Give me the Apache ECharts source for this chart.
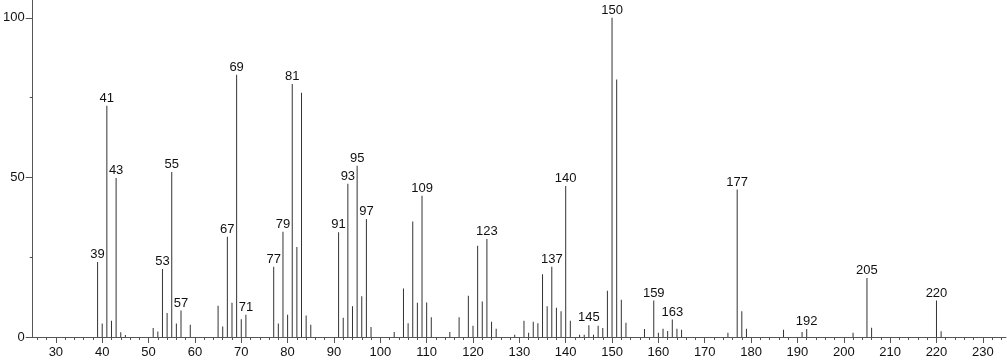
<!DOCTYPE html>
<html>
<head>
<meta charset="utf-8">
<script src="https://cdn.jsdelivr.net/npm/echarts@6/dist/echarts.min.js"></script>
<style>
html,body{margin:0;padding:0;background:#fff;}
#chart{width:1007px;height:362px;}
</style>
</head>
<body>
<div id="chart"></div>
<script>
// m/z values of the peaks
var mzValues = [39,40,41,42,43,44,45,51,52,53,54,55,56,57,59,65,66,67,68,69,70,71,77,78,79,80,81,82,83,84,85,91,92,93,94,95,96,97,98,103,105,106,107,108,109,110,111,115,117,119,120,121,122,123,124,125,129,131,132,133,134,135,136,137,138,139,140,141,143,144,145,146,147,148,149,150,151,152,153,157,159,160,161,162,163,164,165,175,177,178,179,187,191,192,202,205,206,220,221];
// relative intensities (%)
var intensities = [23.5,4.2,72.5,5.1,49.8,1.5,0.6,2.8,1.7,21.3,7.5,51.7,4.2,8.3,3.8,9.8,3.3,31.4,10.7,82.2,5.6,7.0,22.0,4.2,33.0,7.0,79.3,28.2,76.5,6.7,3.8,32.8,6.0,48.0,9.6,53.7,12.8,37.0,3.1,1.6,15.2,4.3,36.2,10.7,44.3,10.8,6.2,1.6,6.2,12.9,3.5,28.6,11.1,30.7,4.8,2.6,0.7,5.1,1.3,4.8,4.3,19.7,9.6,22.0,9.2,8.1,47.3,5.1,0.7,0.7,3.7,0.7,3.5,2.8,14.5,100,80.7,11.7,4.5,2.5,11.4,1.3,2.6,1.9,5.5,2.6,2.3,1.3,46.2,8.1,2.6,2.3,1.6,2.5,1.3,18.5,2.9,11.4,1.8];
// peaks that carry an m/z label
var labeledPeaks = [39,41,43,53,55,57,67,69,71,77,79,81,91,93,95,97,109,123,137,140,145,150,159,163,177,192,205,220];
// axis tick values
var xMajorTicks = [30,40,50,60,70,80,90,100,110,120,130,140,150,160,170,180,190,200,210,220,230];
var xMinorTicks = [26,28,32,34,36,38,42,44,46,48,52,54,56,58,62,64,66,68,72,74,76,78,82,84,86,88,92,94,96,98,102,104,106,108,112,114,116,118,122,124,126,128,132,134,136,138,142,144,146,148,152,154,156,158,162,164,166,168,172,174,176,178,182,184,186,188,192,194,196,198,202,204,206,208,212,214,216,218,222,224,226,228,232,234];
var yMajorTicks = [0,50,100];
var yMinorTicks = [25,75];

var chart = echarts.init(document.getElementById('chart'), null, {renderer:'canvas'});
var font = "'Liberation Sans', Arial, Helvetica, sans-serif";
var axisColor = '#555';
var data = mzValues.map(function(m, i){
  var lab = labeledPeaks.indexOf(m) >= 0;
  return {value:[m, intensities[i]], label:{show:lab}};
});
var xBase = {type:'value', min:25, max:235, gridIndex:0, position:'bottom', splitLine:{show:false}};
var yBase = {type:'value', min:0, max:105.6, gridIndex:0, position:'left', splitLine:{show:false}};
chart.setOption({
  animation:false,
  backgroundColor:'#fff',
  grid:{left:29, right:1, top:0, bottom:25, containLabel:false},
  xAxis:[
    Object.assign({}, xBase, {
      axisLine:{show:true, lineStyle:{color:axisColor, width:1}},
      axisTick:{show:true, customValues:xMajorTicks, length:6, lineStyle:{color:axisColor}},
      axisLabel:{show:true, customValues:xMajorTicks, margin:9, color:'#111', fontSize:13, fontFamily:font}
    }),
    Object.assign({}, xBase, {
      axisLine:{show:false},
      axisTick:{show:true, customValues:xMinorTicks, length:3, lineStyle:{color:axisColor}},
      axisLabel:{show:false}
    })
  ],
  yAxis:[
    Object.assign({}, yBase, {
      axisLine:{show:true, lineStyle:{color:axisColor, width:1}},
      axisTick:{show:true, customValues:yMajorTicks, length:7, lineStyle:{color:axisColor}},
      axisLabel:{show:true, customValues:yMajorTicks, margin:8, color:'#111', fontSize:13, fontFamily:font}
    }),
    Object.assign({}, yBase, {
      axisLine:{show:false},
      axisTick:{show:true, customValues:yMinorTicks, length:3, lineStyle:{color:axisColor}},
      axisLabel:{show:false}
    })
  ],
  series:[{
    type:'bar',
    xAxisIndex:0, yAxisIndex:0,
    barWidth:1,
    itemStyle:{color:'#333'},
    label:{position:'top', distance:1, color:'#111', fontSize:13, fontFamily:font,
      formatter:function(p){return String(p.value[0]);}},
    data:data
  }]
});
</script>
</body>
</html>
